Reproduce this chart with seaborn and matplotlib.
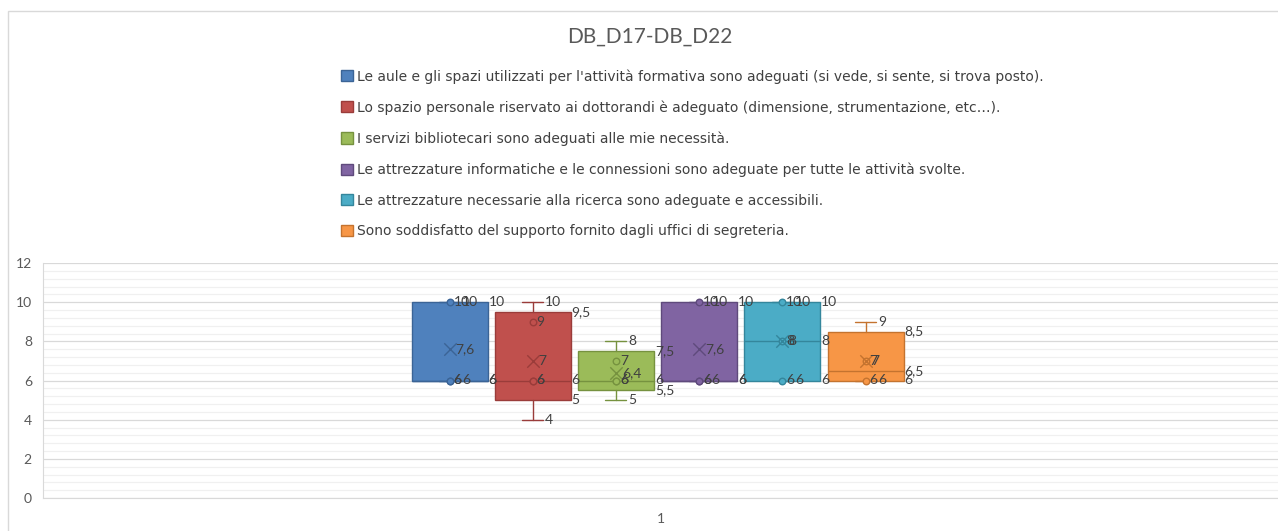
import numpy as np
import matplotlib
matplotlib.use("Agg")
import matplotlib.pyplot as plt
import matplotlib.transforms as mtransforms
from matplotlib.patches import Patch, Rectangle
from matplotlib.ticker import MultipleLocator
import seaborn as sns

# Dati (risposte per domanda)
title = "DB_D17-DB_D22"
category = "1"
labels = [
    "Le aule e gli spazi utilizzati per l'attività formativa sono adeguati (si vede, si sente, si trova posto).",
    "Lo spazio personale riservato ai dottorandi è adeguato (dimensione, strumentazione, etc…).",
    "I servizi bibliotecari sono adeguati alle mie necessità.",
    "Le attrezzature informatiche e le connessioni sono adeguate per tutte le attività svolte.",
    "Le attrezzature necessarie alla ricerca sono adeguate e accessibili.",
    "Sono soddisfatto del supporto fornito dagli uffici di segreteria.",
]
aule = [6, 6, 6, 10, 10]
spazio = [4, 6, 6, 9, 10]
biblioteca = [5, 6, 6, 7, 8]
informatica = [6, 6, 6, 10, 10]
ricerca = [6, 6, 8, 10, 10]
segreteria = [6, 6, 7, 9]
series = [aule, spazio, biblioteca, informatica, ricerca, segreteria]

colors = ["#4F81BD", "#C0504D", "#9BBB59", "#8064A2", "#4BACC6", "#F79646"]
dark = ["#3B6496", "#9A3C3A", "#76923F", "#5F4A7C", "#34869C", "#C4732F"]

sns.set_style("white")
plt.rcParams["font.family"] = ["Lato", "DejaVu Sans"]

W, H = 1278, 531
fig = plt.figure(figsize=(W / 100, H / 100), dpi=100)
ax = fig.add_axes([43 / W, 1 - 498 / H, 1 - 43 / W, (498 - 263) / H])


def fmt(v):
    return f"{round(v, 1):g}".replace(".", ",")


# Statistiche in stile Excel (quartili esclusivi)
stats = []
for d in series:
    q1, med, q3 = np.percentile(d, [25, 50, 75], method="weibull")
    stats.append(dict(whislo=min(d), q1=q1, med=med, q3=q3, whishi=max(d),
                      mean=np.mean(d), fliers=[]))

step = 0.06737
width = 0.0615
capw = 0.017
pos = (np.arange(len(series)) - 2.5) * step - 0.0024

for i, st in enumerate(stats):
    ax.bxp([st], positions=[pos[i]], widths=width, capwidths=capw,
           patch_artist=True, showfliers=False, showmeans=False,
           boxprops=dict(facecolor=colors[i], edgecolor=dark[i], linewidth=1),
           medianprops=dict(color=dark[i], linewidth=1),
           whiskerprops=dict(color=dark[i], linewidth=1),
           capprops=dict(color=dark[i], linewidth=1), zorder=3)

# Punti interni e media
for i, d in enumerate(series):
    inner = sorted(d)[1:-1]
    sns.scatterplot(x=[pos[i]] * len(inner), y=inner, ax=ax, s=22,
                    color=colors[i], edgecolor=dark[i], linewidth=1, zorder=4, legend=False)
    ax.scatter([pos[i]], [stats[i]["mean"]], marker="x", s=80, color=dark[i],
               linewidth=1, zorder=5)

# Etichette dati
lab_kw = dict(fontsize=10, color="#404040", va="center", ha="left", zorder=6)
def lab(x, y, v, dx):
    tr = mtransforms.offset_copy(ax.transData, fig=fig, x=dx, y=0, units="dots")
    ax.text(x, y, fmt(v), transform=tr, **lab_kw)

for i, (d, st) in enumerate(zip(series, stats)):
    p = pos[i]
    for pt in sorted(d)[1:-1]:
        lab(p, pt, pt, 4)
    lab(p, st["mean"], st["mean"], 6)
    lab(p + capw / 2, st["whishi"], st["whishi"], 2)
    lab(p + capw / 2, st["whislo"], st["whislo"], 2)
    for k in ("q3", "med", "q1"):
        lab(p + width / 2, st[k], st[k], 1)

ax.set_xlim(-0.5, 0.5)
ax.set_ylim(0, 12)
ax.set_xticks([0])
ax.set_xticklabels([category])
ax.set_yticks(np.arange(0, 13, 2))
ax.yaxis.set_minor_locator(MultipleLocator(0.4))
ax.grid(True, which="major", axis="y", color="#D9D9D9", linewidth=0.9, zorder=0)
ax.grid(True, which="minor", axis="y", color="#F0F0F0", linewidth=0.9, zorder=0)
ax.set_axisbelow(True)
ax.tick_params(axis="both", which="both", length=0, labelsize=10, labelcolor="#595959")
ax.tick_params(axis="y", pad=8)
ax.tick_params(axis="x", pad=11)
for s in ("top", "right"):
    ax.spines[s].set_visible(False)
ax.spines["left"].set_color("#D9D9D9")
ax.spines["bottom"].set_color("#D9D9D9")

# Bordo del grafico
fig.add_artist(Rectangle((8 / W, -0.1), 1.2, 1 - 11 / H + 0.1, transform=fig.transFigure,
                         fill=False, edgecolor="#D9D9D9", linewidth=1))

fig.text(650 / W, 1 - 37 / H, title, ha="center", va="center", fontsize=15, color="#595959")

handles = [Patch(facecolor=c, edgecolor=e) for c, e in zip(colors, dark)]
fig.legend(handles, labels, loc="upper left", bbox_to_anchor=(341 / W, 1 - 69 / H),
           frameon=False, borderpad=0, borderaxespad=0, handlelength=0.86, handleheight=0.86,
           handletextpad=0.3, labelspacing=1.2, labelcolor="#404040",
           prop=dict(family=["DejaVu Sans"], size=10))

fig.savefig("out.png", dpi=100)
